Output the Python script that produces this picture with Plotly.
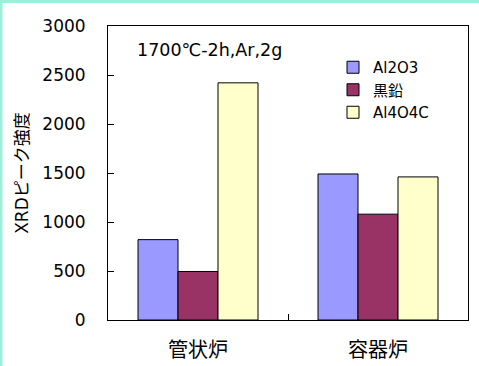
import plotly.graph_objects as go

# Furnace types and XRD peak intensities per phase
furnaces = ["管状炉", "容器炉"]
series_names = ["Al2O3", "黒鉛", "Al4O4C"]
al2o3 = [820, 1490]
graphite = [495, 1080]
al4o4c = [2420, 1460]
y_ticks = [0, 500, 1000, 1500, 2000, 2500, 3000]

colors = ["#9999FF", "#993366", "#FFFFCC"]
FONT = "DejaVu Sans, Noto Sans CJK JP"
CJK = "Noto Sans CJK JP"

fig = go.Figure()
for name, vals, col in zip(series_names, [al2o3, graphite, al4o4c], colors):
    fig.add_trace(go.Bar(
        x=furnaces, y=vals, name=name,
        marker=dict(color=col, line=dict(color="black", width=1)),
    ))

W, H = 479, 366
ml, mr, mt, mb = 108, 11, 26, 46
pw, ph = W - ml - mr, H - mt - mb

def px_x(px):
    return (px - ml) / pw

def px_y(py):
    return (H - mb - py) / ph

border = "#9EEEDC"
fig.add_shape(type="rect", xref="paper", yref="paper", layer="above",
              x0=px_x(0), x1=px_x(W), y0=px_y(3), y1=px_y(0),
              fillcolor=border, line=dict(width=0))
fig.add_shape(type="rect", xref="paper", yref="paper", layer="above",
              x0=px_x(0), x1=px_x(2.5), y0=px_y(H), y1=px_y(0),
              fillcolor=border, line=dict(width=0))

fig.add_annotation(text="1700℃-2h,Ar,2g", xref="paper", yref="paper",
                   x=px_x(135), y=px_y(50), xanchor="left", yanchor="middle",
                   showarrow=False, font=dict(size=17.5, color="black", family=FONT))

fig.update_layout(
    width=W, height=H,
    margin=dict(l=ml, r=mr, t=mt, b=mb, autoexpand=False),
    paper_bgcolor="white", plot_bgcolor="white",
    font=dict(family=FONT, color="black", size=15),
    barmode="group", bargap=1/3, bargroupgap=0,
    showlegend=True,
    legend=dict(x=px_x(333), y=px_y(51), xanchor="left", yanchor="top",
                bgcolor="rgba(0,0,0,0)", font=dict(size=15, family=FONT),
                itemwidth=30, tracegroupgap=0),
)
fig.update_xaxes(
    automargin=False,
    showline=True, linecolor="black", linewidth=1, mirror=True,
    ticks="inside", ticklen=6, tickcolor="black", tickson="boundaries",
    tickfont=dict(size=20, family=CJK), ticklabelstandoff=12,
    showgrid=False,
)
fig.update_yaxes(
    automargin=False,
    range=[0, 3000], tickvals=y_ticks,
    showline=True, linecolor="black", linewidth=1, mirror=True,
    ticks="inside", ticklen=6, tickcolor="black",
    tickfont=dict(size=17, family=FONT), ticklabelstandoff=18,
    showgrid=False, zeroline=False,
    title=dict(text="XRDピーク強度", font=dict(size=17, family=FONT), standoff=9),
)

fig.write_html("out.html")
